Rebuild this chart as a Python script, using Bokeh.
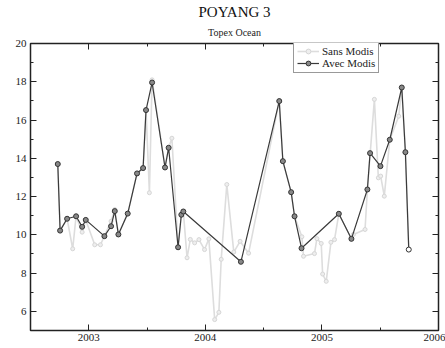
from bokeh.plotting import figure
from bokeh.models import (Range1d, FixedTicker, LinearAxis, Title, Legend, LegendItem)
from bokeh.embed import file_html
from bokeh.resources import INLINE

title_text = "POYANG 3"
subtitle_text = "Topex Ocean"

# Avec Modis
avec_t = [2002.734, 2002.754, 2002.814, 2002.891, 2002.943, 2002.974, 2003.134, 2003.191,
          2003.223, 2003.254, 2003.334, 2003.414, 2003.466, 2003.491, 2003.543, 2003.654,
          2003.685, 2003.766, 2003.794, 2003.811, 2004.305, 2004.634, 2004.665, 2004.736,
          2004.765, 2004.825, 2005.145, 2005.253, 2005.390, 2005.413, 2005.502, 2005.582,
          2005.685, 2005.716, 2005.745]
avec_h = [13.70, 10.22, 10.84, 10.97, 10.42, 10.78, 9.93, 10.45,
          11.24, 10.02, 11.11, 13.21, 13.49, 16.52, 17.96, 13.52,
          14.55, 9.35, 11.05, 11.22, 8.59, 16.99, 13.85, 12.23,
          10.97, 9.30, 11.10, 9.79, 12.37, 14.27, 13.59, 14.97,
          17.70, 14.32, 9.23]

# Sans Modis
sans_t = [2002.734, 2002.754, 2002.814, 2002.862, 2002.891, 2002.943, 2002.974, 2003.051,
          2003.100, 2003.134, 2003.191, 2003.223, 2003.254, 2003.334, 2003.414, 2003.466,
          2003.491, 2003.520, 2003.543, 2003.654, 2003.685, 2003.713, 2003.766, 2003.794,
          2003.811, 2003.843, 2003.871, 2003.908, 2003.945, 2003.993, 2004.030, 2004.080,
          2004.116, 2004.136, 2004.184, 2004.244, 2004.298, 2004.371, 2004.634, 2004.665,
          2004.736, 2004.765, 2004.828, 2004.842, 2004.936, 2004.957, 2004.994, 2005.006,
          2005.037, 2005.077, 2005.108, 2005.145, 2005.253, 2005.270, 2005.370, 2005.390,
          2005.450, 2005.484, 2005.504, 2005.535, 2005.582, 2005.659, 2005.685, 2005.716,
          2005.745]
sans_h = [13.70, 10.22, 10.84, 9.27, 10.97, 10.14, 10.78, 9.48,
          9.48, 9.93, 10.71, 11.32, 10.02, 11.11, 13.21, 13.49,
          16.52, 12.20, 18.10, 13.52, 14.55, 15.05, 9.35, 11.05,
          11.22, 8.80, 9.76, 9.58, 9.75, 9.23, 9.79, 5.57,
          5.95, 8.72, 12.63, 9.10, 9.66, 9.04, 17.00, 13.85,
          12.23, 10.97, 9.90, 8.88, 9.02, 9.80, 9.55, 7.95,
          7.57, 9.61, 9.75, 11.10, 9.79, 10.02, 10.28, 12.37,
          17.08, 12.98, 13.07, 12.02, 14.97, 16.20, 17.70, 14.32,
          9.23]

year_ticks = [2003, 2004, 2005, 2006]
half_ticks = [2002.5, 2003.5, 2004.5, 2005.5]
y_ticks = [6, 8, 10, 12, 14, 16, 18, 20]
y_minor = [5, 7, 9, 11, 13, 15, 17, 19]

FONT = "Liberation Serif"

p = figure(width=445, height=348, output_backend="svg", toolbar_location=None,
           x_range=Range1d(2002.5, 2006), y_range=Range1d(5, 20),
           min_border_left=30, min_border_right=7, min_border_top=43, min_border_bottom=18)
p.title = None
p.xgrid.visible = False
p.ygrid.visible = False
p.outline_line_color = "#222222"
p.outline_line_width = 1.5
p.background_fill_color = "white"
p.border_fill_color = "white"

for ax in [p.xaxis[0], p.yaxis[0]]:
    ax.axis_line_color = None
    ax.major_tick_in = 6
    ax.major_tick_out = 0
    ax.minor_tick_in = 3
    ax.minor_tick_out = 0
    ax.major_tick_line_color = "#222222"
    ax.minor_tick_line_color = "#222222"
    ax.major_label_text_font = FONT
    ax.major_label_text_font_size = "11px"
    ax.major_label_text_color = "#222222"
p.xaxis[0].ticker = FixedTicker(ticks=year_ticks, minor_ticks=half_ticks)
p.yaxis[0].ticker = FixedTicker(ticks=y_ticks, minor_ticks=y_minor)
p.xaxis[0].major_label_standoff = 3
p.yaxis[0].major_label_standoff = 4

top = LinearAxis(ticker=FixedTicker(ticks=year_ticks, minor_ticks=half_ticks))
right = LinearAxis(ticker=FixedTicker(ticks=y_ticks, minor_ticks=y_minor))
top.major_label_overrides = {t: "" for t in year_ticks}
right.major_label_overrides = {t: "" for t in y_ticks}
for ax in [top, right]:
    ax.axis_line_color = None
    ax.major_tick_in = 6
    ax.major_tick_out = 0
    ax.minor_tick_in = 3
    ax.minor_tick_out = 0
    ax.major_tick_line_color = "#222222"
    ax.minor_tick_line_color = "#222222"
    ax.major_label_standoff = 0
    ax.major_label_text_font_size = "1px"
p.add_layout(top, "above")
p.add_layout(right, "right")

p.add_layout(Title(text=subtitle_text, align="center", text_font=FONT,
                   text_font_size="10px", text_font_style="normal",
                   text_color="#222222", standoff=11), "above")
p.add_layout(Title(text=title_text, align="center", text_font=FONT,
                   text_font_size="15px", text_font_style="normal",
                   text_color="#111111", standoff=0), "above")

sl = p.line(sans_t, sans_h, line_color="#dddddd", line_width=1.6)
ss = p.scatter(sans_t, sans_h, marker="circle", size=4, line_color="#d6d6d6", fill_color="#eeeeee")
al = p.line(avec_t, avec_h, line_color="#3a3a3a", line_width=1.2)
asc = p.scatter(avec_t[:-1], avec_h[:-1], marker="circle", size=5, line_color="#333333",
                fill_color="#888888", line_width=1)
p.scatter(avec_t[-1:], avec_h[-1:], marker="circle", size=5, line_color="#333333",
          fill_color="white", line_width=1)

legend = Legend(items=[LegendItem(label="Sans Modis", renderers=[sl, ss]),
                       LegendItem(label="Avec Modis", renderers=[al, asc])],
                location=(263, 257))
legend.label_text_font = FONT
legend.label_text_font_size = "11px"
legend.label_text_color = "#222222"
legend.label_height = 12
legend.glyph_height = 12
legend.glyph_width = 22
legend.spacing = 0
legend.padding = 3
legend.margin = 0
legend.label_standoff = 3
legend.border_line_color = "#333333"
legend.border_line_width = 1
legend.background_fill_alpha = 1
p.add_layout(legend)

open("out.html", "w").write(file_html(p, INLINE))
